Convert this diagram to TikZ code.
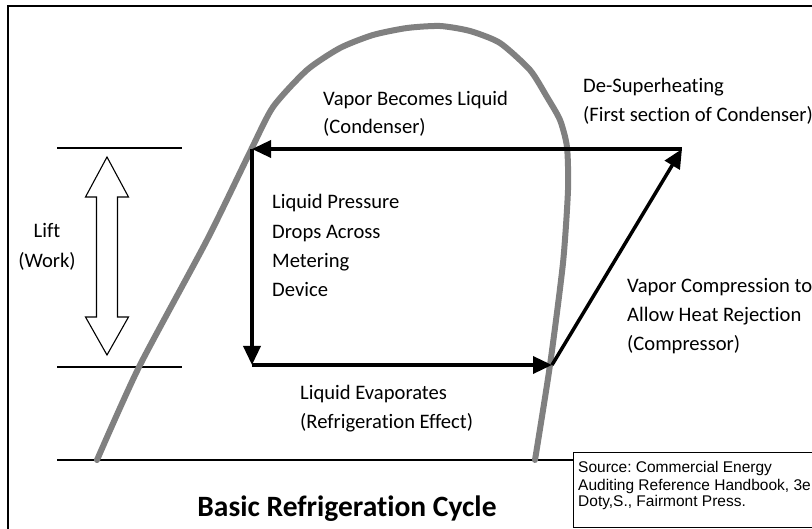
\documentclass[tikz,border=0pt]{standalone}
\usepackage{fontspec}
\setmainfont{Carlito}[Ligatures=NoCommon]
\newfontfamily\arialf{Liberation Sans}
\usetikzlibrary{arrows.meta}
\frenchspacing
\tikzset{
  lbl/.style={anchor=base west, inner sep=0pt, font=\fontsize{20.6}{24}\selectfont},
  lblc/.style={anchor=base, inner sep=0pt, font=\fontsize{20.6}{24}\selectfont},
  src/.style={anchor=base west, inner sep=0pt, font=\arialf\fontsize{15.5}{18}\selectfont},
  cyc/.style={line width=3.5pt, -{Triangle[length=19pt,width=17pt]}},
  thin/.style={line width=1.2pt},
  dome/.style={line width=6pt, draw=black!50, line cap=round, line join=round},
}
\begin{document}
\begin{tikzpicture}[x=1pt,y=-1pt]
\useasboundingbox (0,0) rectangle (812,529);
\clip (0,0) rectangle (812,529);
\fill[white] (0,0) rectangle (812,529);
% frame
\draw[line width=1.5pt] (8,540) -- (8,6) -- (830,6);
% reference lines
\coordinate (l1a) at (57,148); \coordinate (l1b) at (182,148);
\coordinate (l2a) at (57,367); \coordinate (l2b) at (182,367);
\coordinate (l3a) at (57,460); \coordinate (l3b) at (573,460);
\draw[thin] (l1a) -- (l1b);
\draw[thin] (l2a) -- (l2b);
\draw[thin] (l3a) -- (l3b);
% dome
\draw[dome] plot[smooth, tension=0.4] coordinates {
 (97,460) (139,367) (207,240) (250,152) (273,107) (307,70) (340,48)
 (373,35) (407,28) (440,26) (470,31) (500,43) (530,70) (547,97)
 (560,120) (567,147) (568,190) (563,263) (550,365) (535,460)};
% cycle
\coordinate (A) at (682,149);
\coordinate (B) at (252,149);
\coordinate (C) at (252,365);
\coordinate (D) at (552,365);
\draw[cyc] (A) -- (B);
\draw[cyc] (B) -- (C);
\draw[cyc] (C) -- (D);
\draw[cyc] (D) -- (A);
% lift double arrow
\draw[line width=1.1pt, fill=white, line join=miter]
 (107,157) -- (128.5,197) -- (117.5,197) -- (117.5,317) -- (128.5,317) -- (107,355)
 -- (85.5,317) -- (96.5,317) -- (96.5,197) -- (85.5,197) -- cycle;
% labels
\node[lbl] (t1) at (323,106) {Vapor Becomes Liquid};
\node[lbl] (t2) at (323,134) {(Condenser)};
\node[lbl] (t3) at (583,93) {De-Superheating};
\node[lbl] (t4) at (583,122) {(First section of Condenser)};
\node[lbl] (t5) at (272,209) {Liquid Pressure};
\node[lbl] (t6) at (272,239) {Drops Across};
\node[lbl] (t7) at (272,268) {Metering};
\node[lbl] (t8) at (272,297) {Device};
\node[lblc] (t9) at (47,238) {Lift};
\node[lblc] (t10) at (47,268) {(Work)};
\node[lbl] (t11) at (627,293) {Vapor Compression to};
\node[lbl] (t12) at (627,322) {Allow Heat Rejection};
\node[lbl] (t13) at (627,351) {(Compressor)};
\node[lbl] (t14) at (300,400) {Liquid Evaporates};
\node[lbl] (t15) at (300,429) {(Refrigeration Effect)};
\node[anchor=base, inner sep=0pt, font=\bfseries\fontsize{29.5}{34}\selectfont] (title) at (347,516) {Basic Refrigeration Cycle};
% source box
\draw[line width=1pt] (573,453) rectangle (830,527);
\node[src] (s1) at (578,472) {Source: Commercial Energy};
\node[src] (s2) at (578,490) {Auditing Reference Handbook, 3e};
\node[src] (s3) at (578,507) {Doty,S., Fairmont Press.};
\end{tikzpicture}
\end{document}
